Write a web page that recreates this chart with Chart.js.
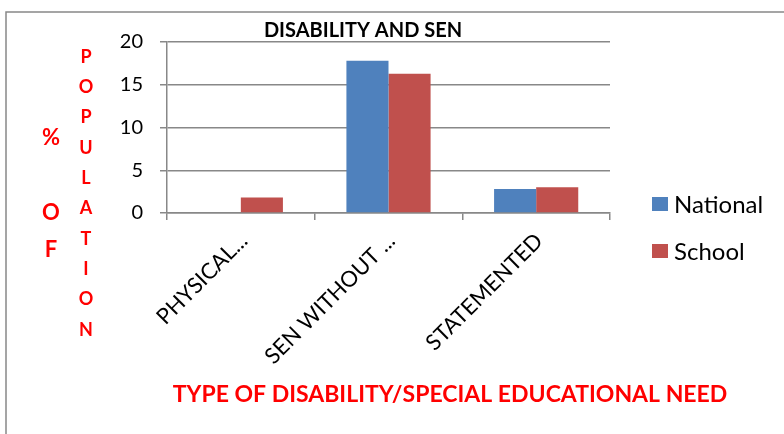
<!DOCTYPE html>
<html>
<head>
<meta charset="utf-8">
<script src="https://cdn.jsdelivr.net/npm/chart.js@4.4.1/dist/chart.umd.min.js"></script>
<style>
  html, body { margin: 0; padding: 0; background: #fff; }
  #wrap { width: 784px; height: 434px; }
</style>
</head>
<body>
<div id="wrap"><canvas id="chart" width="784" height="434"></canvas></div>
<script>
const categories = ['PHYSICAL...', 'SEN WITHOUT ...', 'STATEMENTED'];
const nationalValues = [0, 17.8, 2.8];
const schoolValues = [1.8, 16.3, 3.0];
const seriesNames = ['National', 'School'];
const seriesColors = ['#4F81BD', '#C0504D'];
const chartTitle = 'DISABILITY AND SEN';
const xTitle = 'TYPE OF DISABILITY/SPECIAL EDUCATIONAL NEED';
const yTitleLeft = ['%', 'O', 'F'];
const yTitleRight = 'POPULATION';

const FONT = 'Lato, "Liberation Sans", sans-serif';
const GRID = '#888888';
const RED = '#FF0000';

// titles, stacked y title, legend and the outer frame
const extras = {
  id: 'extras',
  afterDraw(chart) {
    const ctx = chart.ctx;
    ctx.save();

    ctx.strokeStyle = GRID;
    ctx.lineWidth = 1.5;
    ctx.strokeRect(6, 12, 900, 600);

    ctx.fillStyle = '#000';
    ctx.font = 'bold 20px ' + FONT;
    ctx.textAlign = 'center';
    ctx.textBaseline = 'middle';
    ctx.fillText(chartTitle, 363, 31);

    ctx.fillStyle = RED;
    ctx.font = 'bold 23px ' + FONT;
    ctx.fillText(xTitle, 450, 395);

    ctx.font = 'bold 22px ' + FONT;
    const leftY = [138, 213, 250];
    yTitleLeft.forEach((ch, i) => ctx.fillText(ch, 51, leftY[i]));

    ctx.font = 'bold 18px ' + FONT;
    yTitleRight.split('').forEach((ch, i) => ctx.fillText(ch, 86, 57 + i * 30.3));

    // legend
    ctx.textAlign = 'left';
    ctx.font = '24px ' + FONT;
    chart.data.datasets.forEach((ds, i) => {
      const y = 204 + i * 47;
      ctx.fillStyle = ds.backgroundColor;
      ctx.fillRect(652, y - 7, 16, 14);
      ctx.fillStyle = '#000';
      ctx.fillText(ds.label, 674, y + 1);
    });

    ctx.restore();
  }
};

new Chart(document.getElementById('chart'), {
  type: 'bar',
  data: {
    labels: categories,
    datasets: [
      { label: seriesNames[0], data: nationalValues, backgroundColor: seriesColors[0] },
      { label: seriesNames[1], data: schoolValues, backgroundColor: seriesColors[1] }
    ]
  },
  options: {
    responsive: false,
    animation: false,
    categoryPercentage: 0.57,
    barPercentage: 1.0,
    layout: { padding: { top: 42, right: 174, left: 0, bottom: 0 } },
    plugins: {
      legend: { display: false },
      title: { display: false },
      tooltip: { enabled: false }
    },
    scales: {
      x: {
        afterFit(scale) { scale.height = 221; },
        grid: { drawOnChartArea: false, color: GRID, lineWidth: 1.5, tickLength: 7, offset: true },
        border: { color: GRID, width: 1.5 },
        ticks: {
          color: '#000',
          font: { family: FONT, size: 22 },
          maxRotation: 45,
          minRotation: 45,
          autoSkip: false,
          padding: 8,
          labelOffset: 3
        }
      },
      y: {
        min: 0,
        max: 20,
        afterFit(scale) { scale.width = 167; },
        grid: { color: GRID, lineWidth: 1.5, tickLength: 7 },
        border: { color: GRID, width: 1.5 },
        ticks: {
          stepSize: 5,
          color: '#000',
          font: { family: FONT, size: 20 },
          padding: 17
        }
      }
    }
  },
  plugins: [extras]
});
</script>
</body>
</html>
